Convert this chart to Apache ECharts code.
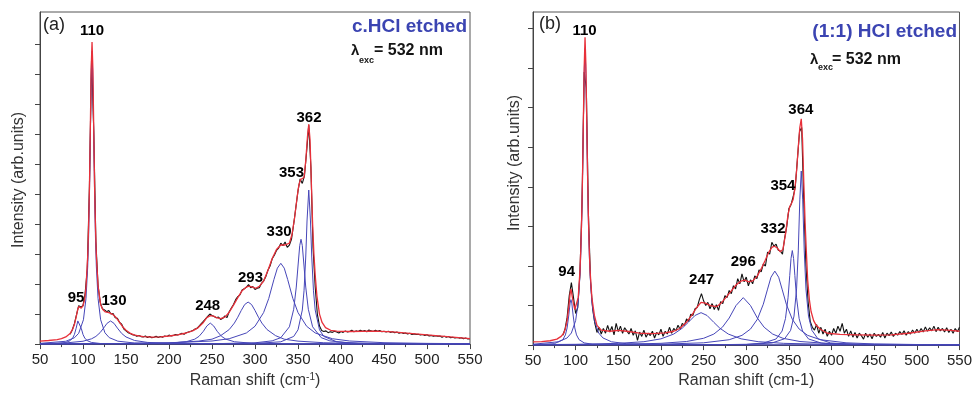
<!DOCTYPE html>
<html><head><meta charset="utf-8">
<script src="https://cdn.jsdelivr.net/npm/echarts@6/dist/echarts.min.js"></script>
<style>html,body{margin:0;padding:0;background:#fff}#c{width:975px;height:394px}</style>
</head><body><div id="c"></div>
<script>
// ---------- DATA ----------
const xTicks = [50,100,150,200,250,300,350,400,450,500,550];
const yTicksA = [0,1,2,3,4,5,6,7,8,9,10];
const yTicksB = [0,1,2,3,4,5,6,7,8];
// measured spectra sampled every 2.5 cm-1 from 85 cm-1
const specStart = 85, specStep = 2.5;
const measuredA = [
0.33,0.47,0.68,0.98,1.28,1.24,1.28,1.7,2.5,5.3,
9.6,7.1,3.4,1.95,1.4,1.18,1.14,1.08,1.12,1.0,
1.02,0.88,0.86,0.72,0.66,0.5,0.44,0.38,0.35,0.31,
0.3,0.26,0.29,0.25,0.24,0.27,0.22,0.25,0.21,0.23,
0.26,0.22,0.25,0.23,0.27,0.25,0.3,0.27,0.29,0.32,
0.3,0.33,0.36,0.33,0.38,0.4,0.42,0.45,0.5,0.52,
0.6,0.68,0.76,0.84,0.92,1.0,0.95,0.92,0.88,0.9,
0.82,0.86,0.94,0.88,1.08,1.2,1.32,1.48,1.58,1.64,
1.8,1.84,1.9,1.98,1.88,1.92,1.82,1.86,1.88,2.02,
2.1,2.24,2.46,2.6,2.84,2.96,3.12,3.2,3.36,3.28,
3.4,3.22,3.3,3.5,4.0,4.55,5.1,5.5,5.35,5.6,
6.4,7.3,5.9,3.2,1.9,1.0,0.6,0.45,0.42,0.44,
0.38,0.41,0.39,0.43,0.4,0.37,0.42,0.39,0.44,0.4,
0.42,0.46,0.41,0.44,0.42,0.46,0.43,0.45,0.41,0.47,
0.44,0.42,0.46,0.43,0.45,0.41,0.43,0.4,0.43,0.39,
0.41,0.38,0.4,0.36,0.39,0.35,0.37,0.34,0.36,0.32,
0.34,0.32,0.33,0.3,0.32,0.29,0.31,0.27,0.29,0.26,
0.28,0.26,0.27,0.23,0.26,0.23,0.25,0.21,0.23,0.2,
0.22,0.2,0.21,0.18,0.2,0.17,0.18
];
const measuredB = [
0.25,0.4,0.7,1.25,1.58,1.2,0.8,0.95,1.8,3.6,
6.9,6.5,3.3,1.6,0.9,0.55,0.32,0.45,0.28,0.42,
0.3,0.5,0.33,0.47,0.26,0.55,0.34,0.48,0.3,0.44,
0.36,0.28,0.42,0.25,0.36,0.12,0.33,0.22,0.38,0.2,
0.3,0.24,0.35,0.18,0.32,0.26,0.4,0.22,0.35,0.28,
0.45,0.3,0.42,0.36,0.5,0.4,0.55,0.5,0.66,0.6,
0.78,0.75,0.92,0.95,1.15,1.3,1.12,1.0,1.08,0.92,
1.05,0.9,1.02,0.88,1.1,1.05,1.25,1.2,1.38,1.3,
1.5,1.42,1.68,1.55,1.8,1.6,1.72,1.5,1.65,1.55,
1.75,1.68,1.9,1.85,2.05,2.0,2.35,2.3,2.6,2.5,
2.55,2.4,2.38,2.3,2.7,3.0,3.45,3.55,3.75,4.0,
4.7,5.4,5.5,3.6,2.0,1.1,0.6,0.45,0.38,0.52,
0.3,0.45,0.28,0.4,0.22,0.35,0.25,0.42,0.3,0.48,
0.35,0.55,0.3,0.4,0.22,0.36,0.2,0.32,0.18,0.3,
0.24,0.15,0.3,0.2,0.28,0.16,0.3,0.22,0.27,0.2,
0.32,0.18,0.3,0.24,0.33,0.22,0.3,0.25,0.34,0.27,
0.36,0.25,0.34,0.28,0.38,0.3,0.4,0.32,0.42,0.33,
0.46,0.35,0.44,0.36,0.48,0.34,0.45,0.36,0.42,0.33,
0.44,0.32,0.4,0.3,0.42,0.34,0.45
];
// fitted envelopes [shift, intensity]
const fitA = [[50,0.10],[60,0.12],[70,0.15],[75,0.18],[80,0.24],[85,0.35],[88,0.5],[90,0.65],[92,0.9],[94,1.17],[95,1.25],[96,1.26],[98,1.2],[100,1.28],[102,1.5],[103.5,1.9],[105.5,2.95],[106.5,3.9],[107.5,5.23],[108.5,7.12],[109.5,9.15],[110.5,10.06],[111.5,9.15],[112.5,7.12],[113.5,5.23],[114.5,3.9],[115.5,2.95],[117.5,1.95],[120.5,1.31],[123,1.15],[126,1.07],[130,1.05],[134,1.0],[138,0.9],[142,0.75],[146,0.58],[150,0.46],[155,0.36],[160,0.30],[170,0.25],[180,0.23],[190,0.24],[200,0.27],[210,0.31],[220,0.37],[228,0.45],[234,0.55],[240,0.72],[244,0.88],[248,0.95],[252,0.93],[256,0.87],[260,0.85],[265,0.9],[270,1.06],[275,1.3],[280,1.55],[285,1.78],[290,1.9],[293,1.93],[297,1.9],[301,1.86],[305,1.92],[310,2.1],[315,2.45],[320,2.85],[325,3.15],[330,3.3],[335,3.3],[340,3.36],[343,3.65],[346,4.2],[349,4.9],[351,5.3],[353,5.48],[355,5.42],[357,5.55],[359,6.1],[361,6.9],[362.5,7.32],[364,6.8],[365.5,5.4],[367,4.0],[368.5,3.0],[370,2.3],[372,1.6],[375,1.0],[378,0.72],[382,0.55],[388,0.46],[395,0.43],[410,0.42],[440,0.43],[460,0.41],[480,0.36],[500,0.31],[520,0.26],[540,0.21],[550,0.18]];
const fitB = [[50,0.08],[60,0.09],[70,0.11],[78,0.15],[83,0.22],[86,0.3],[88,0.42],[90,0.62],[92,0.98],[93.5,1.3],[94.5,1.42],[95.5,1.38],[97,1.1],[99,0.9],[101,0.85],[103,1.2],[105,1.85],[106,2.4],[107,3.15],[108,4.2],[109,5.6],[110,7.0],[111,7.78],[112,7.1],[113,5.7],[114,4.3],[115,3.2],[116,2.4],[117,1.85],[119,1.2],[122,0.75],[125,0.5],[130,0.38],[140,0.35],[150,0.37],[160,0.35],[175,0.3],[190,0.29],[205,0.31],[215,0.35],[222,0.42],[230,0.58],[236,0.75],[242,0.95],[247,1.08],[252,1.06],[258,1.0],[265,0.97],[270,1.05],[276,1.2],[282,1.36],[288,1.52],[294,1.62],[298,1.64],[303,1.6],[308,1.63],[313,1.75],[318,1.95],[322,2.13],[326,2.33],[330,2.47],[333,2.5],[336,2.46],[340,2.36],[343,2.42],[346,2.8],[349,3.3],[351,3.5],[353,3.58],[355,3.68],[357,3.95],[359,4.4],[361,5.0],[362.8,5.5],[364.5,5.72],[366,5.2],[367.5,4.1],[369,3.1],[370.5,2.35],[372,1.65],[374,1.15],[376,0.85],[379,0.62],[382,0.5],[387,0.4],[395,0.3],[410,0.27],[430,0.26],[450,0.25],[470,0.26],[490,0.3],[510,0.36],[525,0.39],[540,0.37],[550,0.35]];
// fitted components, panel (a)
const compA95 = [[50,0.006],[70,0.02],[80,0.054],[85,0.113],[88,0.202],[90,0.32],[92,0.525],[94,0.772],[95,0.82],[96,0.772],[98,0.525],[100,0.32],[102,0.202],[105,0.113],[110,0.054],[120,0.02],[150,0.004],[250,0.001],[550,0]];
const compA110 = [[50,0.024],[80,0.094],[90,0.21],[95,0.36],[100.5,0.81],[103.5,1.52],[105.5,2.59],[106.5,3.53],[107.5,4.9],[108.5,6.79],[109.5,8.82],[110.5,9.75],[111.5,8.82],[112.5,6.79],[113.5,4.9],[114.5,3.53],[115.5,2.59],[117.5,1.52],[120.5,0.81],[125.5,0.377],[130.5,0.216],[140.5,0.097],[160,0.036],[200,0.011],[300,0.003],[550,0.0005]];
const compA130 = [[50,0.016],[80,0.039],[100,0.095],[110,0.177],[115,0.256],[120,0.385],[125,0.575],[128,0.693],[132,0.77],[136,0.693],[140,0.533],[145,0.354],[150,0.237],[160,0.12],[175,0.056],[200,0.023],[250,0.008],[350,0.002],[550,0.0003]];
const compA248 = [[50,0.002],[150,0.007],[200,0.029],[220,0.079],[230,0.165],[235,0.26],[240,0.427],[244,0.603],[248,0.7],[252,0.603],[256,0.427],[261,0.26],[266,0.165],[276,0.079],[296,0.029],[350,0.0067],[450,0.0017],[550,0.0008]];
const compA293 = [[50,0.006],[150,0.018],[200,0.041],[234,0.099],[250,0.164],[260,0.28],[270,0.484],[276,0.7],[280,0.896],[284,1.12],[288,1.318],[292,1.4],[296,1.318],[300,1.12],[304,0.896],[308,0.7],[314,0.484],[324,0.28],[334,0.164],[350,0.099],[380,0.045],[420,0.0215],[550,0.0053]];
const compA330 = [[50,0.009],[150,0.021],[200,0.04],[250,0.103],[270,0.179],[290,0.371],[300,0.595],[310,1.05],[316,1.52],[322,2.15],[326,2.53],[330,2.69],[334,2.53],[338,2.15],[344,1.52],[350,1.05],[360,0.595],[370,0.371],[390,0.179],[410,0.103],[450,0.047],[500,0.024],[550,0.014]];
const compA353 = [[50,0.001],[250,0.012],[300,0.043],[320,0.108],[330,0.214],[340,0.576],[345,1.16],[348,1.9],[350,2.6],[352,3.28],[353.5,3.49],[355,3.28],[357,2.6],[359,1.9],[362,1.16],[367,0.576],[377,0.214],[387,0.108],[407,0.043],[450,0.0145],[550,0.0033]];
const compA362 = [[50,0.001],[300,0.021],[330,0.077],[345,0.255],[350,0.476],[355,1.135],[357,1.775],[359,2.9],[360.5,4.1],[362.5,5.13],[364.5,4.1],[366,2.9],[368,1.775],[370,1.135],[375,0.476],[380,0.255],[395,0.077],[420,0.025],[550,0.002]];
// fitted components, panel (b)
const compB94 = [[50,0.007],[75,0.036],[85,0.137],[88,0.258],[90,0.434],[92,0.762],[93.5,1.063],[94.5,1.15],[95.5,1.063],[97,0.762],[99,0.434],[101,0.258],[104,0.137],[110,0.056],[120,0.021],[150,0.005],[250,0.001],[550,0]];
const compB110 = [[50,0.022],[80,0.084],[90,0.181],[95,0.306],[100,0.62],[103,1.09],[105,1.74],[106,2.27],[107,3.04],[108,4.11],[109,5.49],[110,6.87],[111,7.5],[112,6.87],[113,5.49],[114,4.11],[115,3.04],[116,2.27],[117,1.74],[119,1.09],[122,0.62],[127,0.306],[132,0.181],[142,0.084],[160,0.034],[200,0.01],[300,0.002],[550,0.0004]];
const compB247 = [[50,0.011],[100,0.02],[150,0.044],[180,0.086],[200,0.158],[215,0.279],[225,0.428],[232,0.575],[240,0.75],[247,0.82],[254,0.75],[262,0.575],[269,0.428],[279,0.279],[294,0.158],[314,0.086],[344,0.044],[400,0.018],[550,0.005]];
const compB296 = [[50,0.007],[150,0.02],[200,0.045],[230,0.091],[250,0.172],[262,0.279],[272,0.451],[280,0.684],[288,1.0],[296.5,1.2],[305,1.0],[313,0.684],[321,0.451],[331,0.279],[343,0.172],[363,0.091],[393,0.045],[443,0.02],[550,0.007]];
const compB332 = [[50,0.005],[150,0.012],[200,0.023],[250,0.058],[280,0.136],[295,0.246],[305,0.406],[313,0.652],[320,1.033],[325,1.415],[329,1.716],[333.5,1.87],[338,1.716],[342,1.415],[347,1.033],[354,0.652],[362,0.406],[372,0.246],[387,0.136],[417,0.058],[450,0.03],[500,0.015],[550,0.009]];
const compB354 = [[50,0.001],[250,0.006],[300,0.02],[320,0.051],[335,0.155],[342,0.354],[346,0.671],[349,1.195],[351,1.757],[352.5,2.19],[354,2.39],[355.5,2.19],[357,1.757],[359,1.195],[362,0.671],[366,0.354],[373,0.155],[388,0.051],[408,0.02],[450,0.0065],[550,0.0016]];
const compB364 = [[50,0.001],[300,0.015],[330,0.053],[345,0.161],[352,0.372],[356,0.733],[359,1.42],[361,2.38],[362.8,3.67],[364.5,4.4],[366.2,3.67],[368,2.38],[370,1.42],[373,0.733],[377,0.372],[384,0.161],[399,0.053],[429,0.015],[550,0.002]];
// peak annotations: name, shift, intensity at label centre
const peakNamesA = ['95','110','130','248','293','330','353','362'];
const peakXA = [92,110.5,136,245,294.8,328,342.4,362.8];
const peakYA = [1.55,10.42,1.45,1.26,2.19,3.74,5.71,7.55];
const peakNamesB = ['94','110','247','296','332','354','364'];
const peakXB = [89.5,110.5,247.7,296.5,331.4,343,364];
const peakYB = [1.84,7.95,1.64,2.11,2.94,4.03,5.94];

// ---------- CHART ----------
const FONT = '"Liberation Sans", Arial, Helvetica, sans-serif';
const BLUE = '#4646b8', RED = '#e8303a';
const chart = echarts.init(document.getElementById('c'), null, {renderer:'canvas'});

function spectrum(vals){ return vals.map((v,i)=>[specStart + i*specStep, v]); }
function line(data, idx, color, width, z){
  return {type:'line', xAxisIndex:idx, yAxisIndex:idx, data:data, symbol:'none', showSymbol:false,
    smooth:false, silent:true, animation:false, z:z, lineStyle:{color:color, width:width}};
}
function labels(names, xs, ys, idx){
  return {type:'scatter', xAxisIndex:idx, yAxisIndex:idx, symbolSize:1, silent:true, animation:false, z:10,
    itemStyle:{color:'#fff', opacity:1},
    data: names.map((n,i)=>({name:n, value:[xs[i], ys[i]]})),
    label:{show:true, position:'inside', formatter:'{b}', fontFamily:FONT, fontWeight:'bold', fontSize:15,
      color:'#000', textBorderWidth:0, textBorderColor:'transparent', opacity:1}};
}
function xAx(idx, nameCfg){
  return Object.assign({gridIndex:idx, type:'value', min:50, max:550, interval:50,
    axisLine:{show:true, onZero:false, lineStyle:{color:'#444', width:1}},
    axisTick:{show:true, inside:false, length:5, lineStyle:{color:'#444'}, customValues:xTicks},
    minorTick:{show:true, splitNumber:2, length:3, lineStyle:{color:'#444'}},
    splitLine:{show:false}, minorSplitLine:{show:false},
    axisLabel:{fontFamily:FONT, fontSize:15, color:'#222', margin:8, customValues:xTicks},
    nameLocation:'middle', nameGap:26}, nameCfg);
}
function yAx(idx, max, ticks){
  return {gridIndex:idx, type:'value', min:0, max:max, interval:1,
    axisLine:{show:true, onZero:false, lineStyle:{color:'#444', width:1}},
    axisTick:{show:true, inside:false, length:5, lineStyle:{color:'#444'}, customValues:ticks},
    axisLabel:{show:false}, splitLine:{show:false}};
}

const compsA = [compA95, compA110, compA130, compA248, compA293, compA330, compA353, compA362];
const compsB = [compB94, compB110, compB247, compB296, compB332, compB354, compB364];
const series = [];
series.push(line(spectrum(measuredA), 0, '#111', 1.1, 2));
compsA.forEach(c=>series.push(line(c, 0, BLUE, 1, 3)));
series.push(line(fitA, 0, RED, 1.3, 4));
series.push(labels(peakNamesA, peakXA, peakYA, 0));
series.push(line(spectrum(measuredB), 1, '#111', 1.1, 2));
compsB.forEach(c=>series.push(line(c, 1, BLUE, 1, 3)));
series.push(line(fitB, 1, RED, 1.3, 4));
series.push(labels(peakNamesB, peakXB, peakYB, 1));

const txt = (x,y,t,font,fill,align,va,rot)=>({type:'text', x:x, y:y, rotation:rot||0, z:20, silent:true,
  style:{text:t, font:font, fill:fill, align:align||'left', verticalAlign:va||'middle'}});

chart.setOption({
  animation:false,
  backgroundColor:'#fff',
  grid:[{left:40, right:505, top:12, bottom:39, show:true, borderColor:'#555', borderWidth:1, backgroundColor:'transparent'},
        {left:533, right:12, top:12, bottom:39, show:true, borderColor:'#555', borderWidth:1, backgroundColor:'transparent'}],
  xAxis:[
    xAx(0, {name:'{n|Raman shift (cm}{s|-1}{n|)}', nameTextStyle:{fontFamily:FONT, fontSize:16, color:'#333',
      rich:{n:{fontFamily:FONT, fontSize:16, color:'#333', lineHeight:18}, s:{fontFamily:FONT, fontSize:10, color:'#333', lineHeight:10, verticalAlign:'top'}}}}),
    xAx(1, {name:'Raman shift (cm-1)', nameTextStyle:{fontFamily:FONT, fontSize:16, color:'#333'}})
  ],
  yAxis:[yAx(0, 11.06, yTicksA), yAx(1, 8.42, yTicksB)],
  series: series,
  graphic:[
    txt(18.5,180,'Intensity (arb.units)','16px '+FONT,'#333','center','middle',Math.PI/2),
    txt(515,163,'Intensity (arb.units)','16px '+FONT,'#333','center','middle',Math.PI/2),
    txt(43,25,'(a)','18px '+FONT,'#222','left','middle'),
    txt(539,24,'(b)','18px '+FONT,'#222','left','middle'),
    txt(467,27,'c.HCl etched','bold 19px '+FONT,'#3b44b2','right','middle'),
    txt(957,32,'(1:1) HCl etched','bold 19px '+FONT,'#3b44b2','right','middle'),
    txt(351,51,'λ','bold 15px '+FONT,'#151515','left','middle'),
    txt(359,61,'exc','bold 9px '+FONT,'#151515','left','middle'),
    txt(374,51,'= 532 nm','bold 16px '+FONT,'#151515','left','middle'),
    txt(810,60,'λ','bold 15px '+FONT,'#151515','left','middle'),
    txt(818,68,'exc','bold 9px '+FONT,'#151515','left','middle'),
    txt(832,60,'= 532 nm','bold 16px '+FONT,'#151515','left','middle')
  ]
});
</script></body></html>
